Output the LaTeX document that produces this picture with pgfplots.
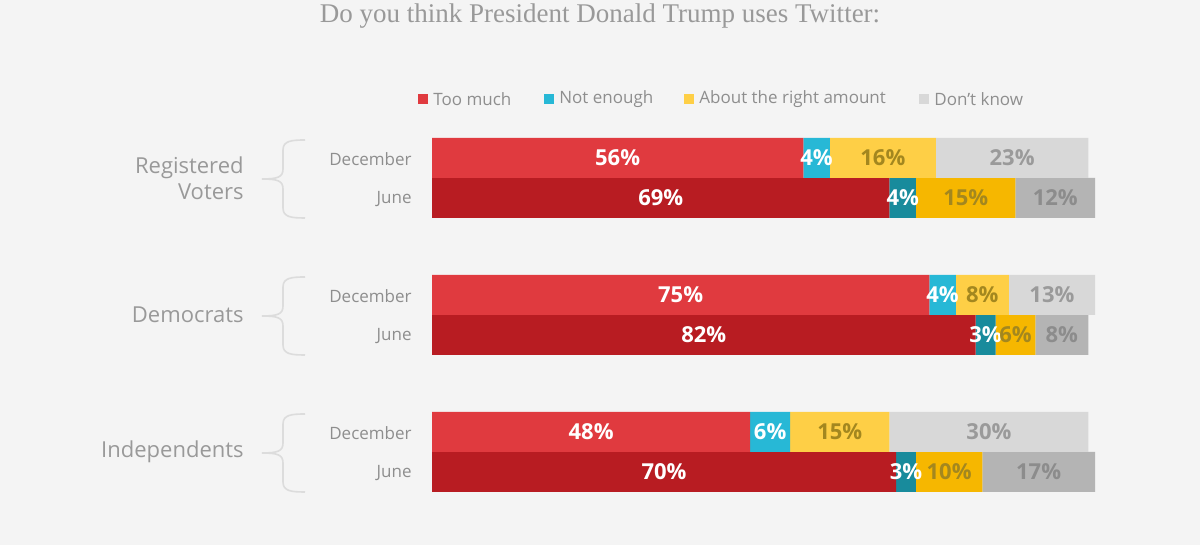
\documentclass[border=0pt]{standalone}
\usepackage{pgfplots}
\pgfplotsset{compat=1.18}
\usepackage{fontspec}
\setmainfont{Open Sans}
\newfontfamily\titlefont{Liberation Serif}
\definecolor{bg}{HTML}{F4F4F4}
\definecolor{tmD}{HTML}{E03A3F}
\definecolor{tmJ}{HTML}{B81C22}
\definecolor{neD}{HTML}{27B8D6}
\definecolor{neJ}{HTML}{188B9C}
\definecolor{arD}{HTML}{FECF46}
\definecolor{arJ}{HTML}{F6B700}
\definecolor{dkD}{HTML}{D8D8D8}
\definecolor{dkJ}{HTML}{B4B4B4}
\definecolor{arL}{HTML}{A3871F}
\definecolor{dkLD}{HTML}{9A9A9A}
\definecolor{dkLJ}{HTML}{8C8C8C}
\definecolor{txt}{HTML}{8E8E8E}
\definecolor{grp}{HTML}{999999}
\definecolor{brc}{HTML}{DCDCDC}
\begin{document}
\begin{tikzpicture}[x=0.5pt,y=0.5pt]
\useasboundingbox (0,0) rectangle (1200,545);
\fill[bg] (0,0) rectangle (1200,545);
\begin{scope}[shift={(0,545)},yscale=-1]
  \node[anchor=base,inner sep=0pt,text=grp,font=\titlefont\fontsize{13.5}{15}\selectfont] at (600,23) {Do you think President Donald Trump uses Twitter:};
  % legend
  \fill[tmD] (418,94) rectangle (428,104);
  \node[anchor=west,inner sep=0pt,text=txt,font=\fontsize{8.5}{10}\selectfont] at (433,99) {Too much};
  \fill[neD] (544,94) rectangle (554,104);
  \node[anchor=west,inner sep=0pt,text=txt,font=\fontsize{8.5}{10}\selectfont] at (559,99) {Not enough};
  \fill[arD] (684,94) rectangle (694,104);
  \node[anchor=west,inner sep=0pt,text=txt,font=\fontsize{8.5}{10}\selectfont] at (699,99) {About the right amount};
  \fill[dkD] (919,94) rectangle (929,104);
  \node[anchor=west,inner sep=0pt,text=txt,font=\fontsize{8.5}{10}\selectfont] at (934,99) {Don't know};
  % group labels
  \node[anchor=east,align=right,inner sep=0pt,text=grp,font=\fontsize{11}{13}\selectfont] at (244,178) {Registered\\Voters};
  \node[anchor=east,inner sep=0pt,text=grp,font=\fontsize{11}{13}\selectfont] at (244,315) {Democrats};
  \node[anchor=east,inner sep=0pt,text=grp,font=\fontsize{11}{13}\selectfont] at (244,452) {Independents};
  % month labels
  \foreach \y in {159,296,433} {
    \node[anchor=east,inner sep=0pt,text=txt,font=\fontsize{8.5}{10}\selectfont] at (412,\y) {December};}
  \foreach \y in {199,336,473} {
    \node[anchor=east,inner sep=0pt,text=txt,font=\fontsize{8.5}{10}\selectfont] at (412,\y) {June};}
  % braces
  \foreach \t/\m/\b in {140/179/218, 277/316/355, 414/453/492} {
    \draw[brc,line width=0.8pt]
      (305,\t) .. controls (291,\t) and (283,\t+1) .. (283,\t+10) -- (283,\m-10)
      .. controls (283,\m-2) and (278,\m) .. (262,\m)
      .. controls (278,\m) and (283,\m+2) .. (283,\m+10) -- (283,\b-10)
      .. controls (283,\b-1) and (291,\b) .. (305,\b);}
\end{scope}
\begin{axis}[at={(216pt,0pt)},anchor=south west,scale only axis,
  width=331.5pt,height=272.5pt,xmin=0,xmax=100,ymin=-545,ymax=0,
  hide axis,clip=false,xbar stacked,bar width=20pt]
\addplot[fill=tmD,draw=none] coordinates {(56,-158) (0,-198) (75,-295) (0,-335) (48,-432) (0,-472)};
\addplot[fill=neD,draw=none] coordinates {(4,-158) (0,-198) (4,-295) (0,-335) (6,-432) (0,-472)};
\addplot[fill=arD,draw=none] coordinates {(16,-158) (0,-198) (8,-295) (0,-335) (15,-432) (0,-472)};
\addplot[fill=dkD,draw=none] coordinates {(23,-158) (0,-198) (13,-295) (0,-335) (30,-432) (0,-472)};
\addplot[fill=tmJ,draw=none] coordinates {(0,-158) (69,-198) (0,-295) (82,-335) (0,-432) (70,-472)};
\addplot[fill=neJ,draw=none] coordinates {(0,-158) (4,-198) (0,-295) (3,-335) (0,-432) (3,-472)};
\addplot[fill=arJ,draw=none] coordinates {(0,-158) (15,-198) (0,-295) (6,-335) (0,-432) (10,-472)};
\addplot[fill=dkJ,draw=none] coordinates {(0,-158) (12,-198) (0,-295) (8,-335) (0,-432) (17,-472)};
\end{axis}
\begin{axis}[at={(216pt,0pt)},anchor=south west,scale only axis,
  width=331.5pt,height=272.5pt,xmin=0,xmax=100,ymin=-545,ymax=0,
  hide axis,clip=false,point meta=explicit symbolic,nodes near coords]
\addplot[draw=none,mark=none,every node near coord/.append style={text=white,anchor=center,inner sep=0pt,font=\bfseries\fontsize{11}{13}\selectfont}]
  coordinates {(28,-158) [56\%] (58,-158) [4\%] (34.5,-198) [69\%] (71,-198) [4\%]
  (37.5,-295) [75\%] (77,-295) [4\%] (41,-335) [82\%] (83.5,-335) [3\%]
  (24,-432) [48\%] (51,-432) [6\%] (35,-472) [70\%] (71.5,-472) [3\%]};
\addplot[draw=none,mark=none,every node near coord/.append style={text=arL,anchor=center,inner sep=0pt,font=\bfseries\fontsize{11}{13}\selectfont}]
  coordinates {(68,-158) [16\%] (80.5,-198) [15\%] (83,-295) [8\%] (88,-335) [6\%]
  (61.5,-432) [15\%] (78,-472) [10\%]};
\addplot[draw=none,mark=none,every node near coord/.append style={text=dkLD,anchor=center,inner sep=0pt,font=\bfseries\fontsize{11}{13}\selectfont}]
  coordinates {(87.5,-158) [23\%] (93.5,-295) [13\%] (84,-432) [30\%]};
\addplot[draw=none,mark=none,every node near coord/.append style={text=dkLJ,anchor=center,inner sep=0pt,font=\bfseries\fontsize{11}{13}\selectfont}]
  coordinates {(94,-198) [12\%] (95,-335) [8\%] (91.5,-472) [17\%]};
\end{axis}
\end{tikzpicture}
\end{document}
